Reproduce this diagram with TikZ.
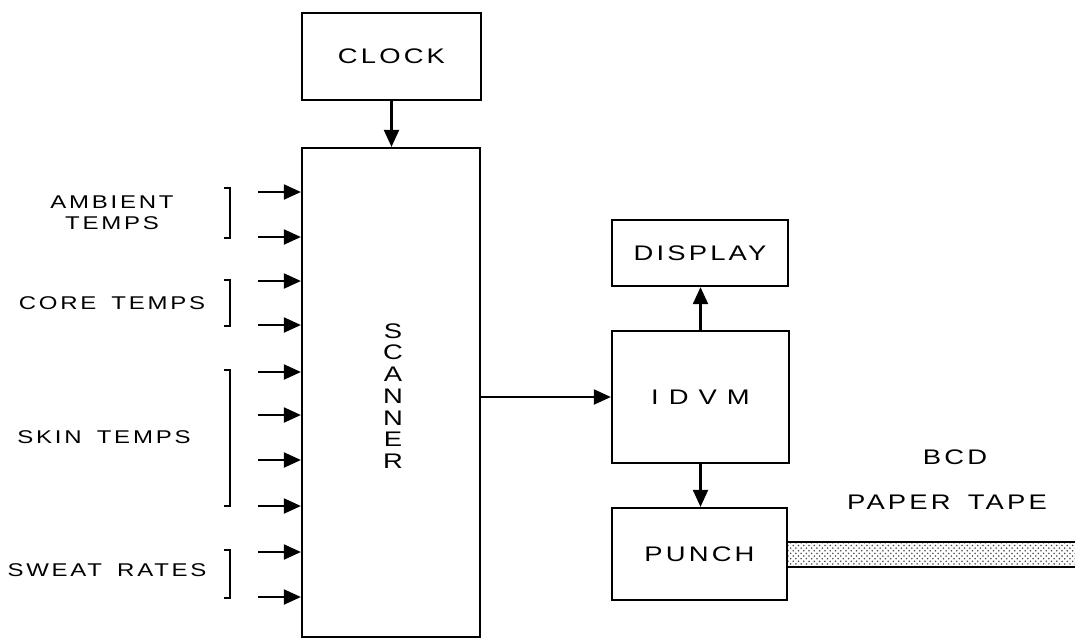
\documentclass[tikz,border=0pt]{standalone}
\usepackage{fontspec}
\usepackage{tikz}
\usetikzlibrary{arrows.meta,patterns}
\newfontfamily\diagfont[FakeStretch=1.3, LetterSpace=15, WordSpace=1.6]{Liberation Sans}

\tikzset{
  blockbox/.style={draw, line width=1.3pt, inner sep=0pt, font=\diagfont\fontsize{12}{13}\selectfont},
  sidelabel/.style={font=\diagfont\fontsize{10.5}{12}\selectfont, align=center},
  bracketline/.style={line width=1.4pt},
  feed/.style={->, line width=1.2pt}
}

\begin{document}
\begin{tikzpicture}[x=0.02cm, y=-0.02cm, >={Triangle[length=3.4mm, width=3mm]}]
  \useasboundingbox (0,0) rectangle (1075,643);
  % Blocks
  \node[blockbox, minimum width=3.58cm, minimum height=1.74cm] (clock) at (391.5,56.5) {CLOCK};
  \node[blockbox, minimum width=3.56cm, minimum height=9.78cm] (scanner) at (391,392.5) {};
  \node[align=center, inner sep=0pt, font=\diagfont\fontsize{12}{12.4}\selectfont] (scanlbl) at (393,396) {S\\C\\A\\N\\N\\E\\R};
  \node[blockbox, minimum width=3.52cm, minimum height=1.32cm] (display) at (700,253) {DISPLAY};
  \node[blockbox, minimum width=3.54cm, minimum height=2.64cm] (idvm) at (700.5,397) {I\hspace{2mm}D\hspace{2mm}V\hspace{2mm}M};
  \node[blockbox, minimum width=3.5cm, minimum height=1.84cm] (punch) at (699.5,554) {PUNCH};
  % Clock into scanner
  \draw[feed] (clock.south) -- (clock.south |- scanner.north);
  % Scanner inputs
  \foreach \i/\y in {1/192, 2/237, 3/281, 4/325, 5/372, 6/415, 7/460, 8/506, 9/552, 10/597} {
    \coordinate (in\i) at (258,\y);
    \draw[feed] (in\i) -- (in\i -| scanner.west);
  }
  % Brackets and their labels
  \draw[bracketline] (224,188) -- (230,188) -- (230,238) -- (224,238);
  \node[sidelabel] (ambient) at (112,213) {AMBIENT\\TEMPS};
  \draw[bracketline] (224,280) -- (230,280) -- (230,326) -- (224,326);
  \node[sidelabel] (core) at (112,303) {CORE TEMPS};
  \draw[bracketline] (224,370) -- (230,370) -- (230,506) -- (224,506);
  \node[sidelabel] (skin) at (104,437) {SKIN TEMPS};
  \draw[bracketline] (224,550) -- (230,550) -- (230,598) -- (224,598);
  \node[sidelabel] (sweat) at (107,570) {SWEAT RATES};
  % Scanner to IDVM, IDVM to display and punch
  \draw[feed] (scanner.east |- idvm.west) -- (idvm.west);
  \draw[feed] (idvm.north) -- (idvm.north |- display.south);
  \draw[feed] (idvm.south) -- (idvm.south |- punch.north);
  % Paper tape
  \fill[pattern=crosshatch dots, pattern color=black!70] (punch.east |- 0,542) rectangle (1075,567);
  \draw[line width=1.4pt] (punch.east |- 0,542) -- (1075,542);
  \draw[line width=1.4pt] (punch.east |- 0,567) -- (1075,567);
  \node[font=\diagfont\fontsize{12}{13}\selectfont] (bcd) at (955,457) {BCD};
  \node[font=\diagfont\fontsize{12}{13}\selectfont] (tape) at (947,502) {PAPER TAPE};
\end{tikzpicture}
\end{document}
